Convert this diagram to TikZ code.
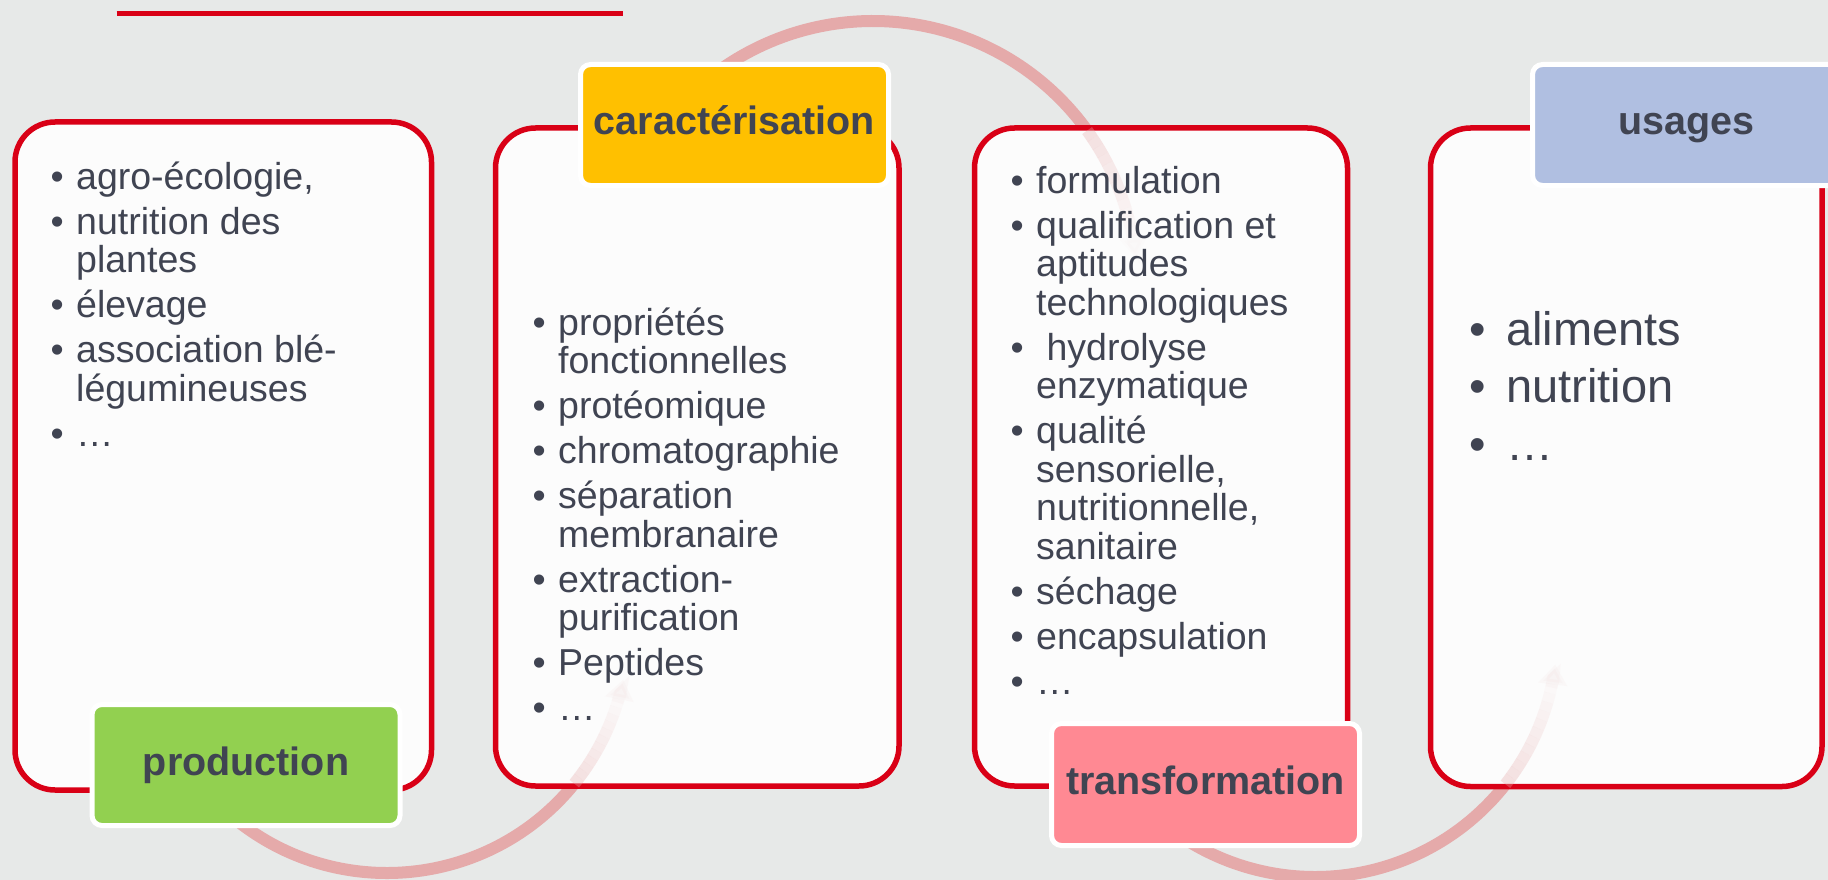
\documentclass[tikz,border=0pt]{standalone}
\usepackage{fontspec}
\setmainfont{Liberation Sans}
\usetikzlibrary{arrows.meta}
\definecolor{bgc}{RGB}{231,233,232}
\definecolor{boxc}{RGB}{252,252,252}
\definecolor{redc}{RGB}{217,0,22}
\definecolor{arcc}{RGB}{229,170,170}
\definecolor{txtc}{RGB}{64,68,82}
\definecolor{greenc}{RGB}{146,208,80}
\definecolor{goldc}{RGB}{255,192,0}
\definecolor{pinkc}{RGB}{255,137,147}
\definecolor{bluec}{RGB}{176,191,225}
\newcommand{\bul}{\makebox[25.5pt][l]{\textbullet}}
\newcommand{\ind}{\hspace*{25.5pt}}
\newcommand{\bigbul}{\makebox[37pt][l]{\textbullet}}
\newcommand{\fadearc}[4]{%
  \foreach \i in {0,...,11}{%
    \pgfmathsetmacro{\sa}{#3+(#4-#3)*\i/12}%
    \pgfmathsetmacro{\sb}{#3+(#4-#3)*(\i+1)/12}%
    \pgfmathsetmacro{\op}{0.34-0.027*\i}%
    \draw[arcline, draw opacity=\op] (#1) ++(\sa:#2) arc[start angle=\sa, end angle=\sb, radius=#2];
  }}
\tikzset{
  panel/.style={rectangle, draw=redc, line width=5.5pt, fill=boxc, rounded corners=40pt, inner sep=0pt},
  lab/.style={rectangle, draw=white, line width=5pt, rounded corners=10pt, inner sep=0pt, text=txtc,
    font=\fontsize{39.5}{44}\selectfont\bfseries, text height=28pt, text depth=8pt,
    minimum height=121pt, minimum width=308pt},
  body/.style={anchor=north west, inner sep=0pt, align=left, text=txtc, font=\fontsize{37.5}{38.5}\selectfont},
  bigbody/.style={anchor=north west, inner sep=0pt, align=left, text=txtc, font=\fontsize{47}{57.5}\selectfont},
  arcline/.style={draw=arcc, line width=12pt},
  tipline/.style={arcline, -{Triangle[width=28pt,length=20pt]}},
}
\begin{document}
\begin{tikzpicture}[x=1pt,y=1pt]
\useasboundingbox (0,0) rectangle (1828,-880);
\clip (0,0) rectangle (1828,-880);
\fill[bgc] (0,0) rectangle (1828,-880);
% top rule
\coordinate (r1) at (116.6,-13.5);
\coordinate (r2) at (622.6,-13.5);
\draw[redc, line width=5pt] (r1) -- (r2);
% arc centres
\coordinate (c1) at (387,-632);
\coordinate (c2) at (873,-285);
\coordinate (c3) at (1315,-635);
% arcs, outer parts
\draw[arcline] (c1) ++(-128:241) arc[start angle=-128, end angle=-38, radius=241];
\draw[arcline] (c2) ++(140:264) arc[start angle=140, end angle=35, radius=264];
\draw[arcline] (c3) ++(-135:242) arc[start angle=-135, end angle=-37, radius=242];
% panels
\node[panel, minimum width=416.5pt, minimum height=668pt] (p1) at (223.25,-456) {};
\node[panel, minimum width=403.5pt, minimum height=658pt] (p2) at (697.25,-457) {};
\node[panel, minimum width=373pt, minimum height=658pt] (p3) at (1161,-457) {};
\node[panel, minimum width=391.5pt, minimum height=658.5pt] (p4) at (1626.25,-457.25) {};
% faded parts inside panels
\fadearc{c1}{241}{-39}{-16.2}
\draw[tipline, opacity=0.05] (c1) ++(-17:241) arc[start angle=-17, end angle=-11.4, radius=241];
\fadearc{c2}{264}{35.8}{10.5}
\draw[tipline, opacity=0.02] (c2) ++(11.2:264) arc[start angle=11.2, end angle=6, radius=264];
\fadearc{c3}{242}{-38.1}{-11.7}
\draw[tipline, opacity=0.05] (c3) ++(-12.5:242) arc[start angle=-12.5, end angle=-7, radius=242];
% texts
\node[body] (t1) at (50.5,-157) {\rule{0pt}{32pt}\bul agro-écologie,\\[6.5pt]
\bul nutrition des\\\ind plantes\\[6.5pt]
\bul élevage\\[6.5pt]
\bul association blé-\\\ind légumineuses\\[6.5pt]
\bul …};
\node[body] (t2) at (532.5,-303) {\rule{0pt}{32pt}\bul propriétés\\\ind fonctionnelles\\[6.5pt]
\bul protéomique\\[6.5pt]
\bul chromatographie\\[6.5pt]
\bul séparation\\\ind membranaire\\[6.5pt]
\bul extraction-\\\ind purification\\[6.5pt]
\bul Peptides\\[6.5pt]
\bul …};
\node[body] (t3) at (1010.5,-161) {\rule{0pt}{32pt}\bul formulation\\[6.5pt]
\bul qualification et\\\ind aptitudes\\\ind technologiques\\[6.5pt]
\bul\ hydrolyse\\\ind enzymatique\\[6.5pt]
\bul qualité\\\ind sensorielle,\\\ind nutritionnelle,\\\ind sanitaire\\[6.5pt]
\bul séchage\\[6.5pt]
\bul encapsulation\\[6.5pt]
\bul …};
\node[bigbody] (t4) at (1469,-305) {\rule{0pt}{40pt}\bigbul aliments\\
\bigbul nutrition\\
\bigbul …};
% labels
\node[lab, fill=greenc] (production) at (246,-765) {production};
\node[lab, fill=goldc] (caract) at (734.5,-125) {caractérisation};
\node[lab, fill=pinkc, minimum height=122pt] (transf) at (1205.5,-784.5) {transformation};
\node[lab, fill=bluec] (usages) at (1686.5,-125) {usages};
\end{tikzpicture}
\end{document}
